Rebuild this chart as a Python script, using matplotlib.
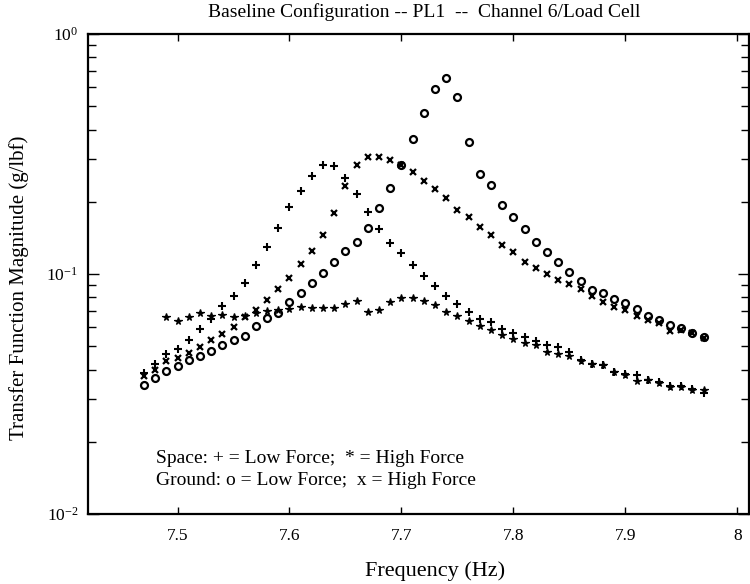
import matplotlib
matplotlib.use("Agg")
import matplotlib.pyplot as plt
import numpy as np
from matplotlib.ticker import LogLocator, FixedLocator, NullFormatter

plt.rcParams['font.family'] = ['Liberation Serif', 'DejaVu Serif']
plt.rcParams['mathtext.fontset'] = 'stix'

freq = [7.47, 7.48, 7.49, 7.50, 7.51, 7.52, 7.53, 7.54, 7.55, 7.56,
        7.57, 7.58, 7.59, 7.60, 7.61, 7.62, 7.63, 7.64, 7.65, 7.66,
        7.67, 7.68, 7.69, 7.70, 7.71, 7.72, 7.73, 7.74, 7.75, 7.76,
        7.77, 7.78, 7.79, 7.80, 7.81, 7.82, 7.83, 7.84, 7.85, 7.86,
        7.87, 7.88, 7.89, 7.90, 7.91, 7.92, 7.93, 7.94, 7.95, 7.96, 7.97]

space_low = [0.0385, 0.0421, 0.0462, 0.0486, 0.0531, 0.0588, 0.0649, 0.0736, 0.0813, 0.0920,
             0.109, 0.130, 0.156, 0.190, 0.222, 0.257, 0.285, 0.283, 0.252, 0.215,
             0.181, 0.154, 0.135, 0.122, 0.109, 0.098, 0.089, 0.081, 0.0752, 0.0693,
             0.0649, 0.0628, 0.0591, 0.0568, 0.0545, 0.0526, 0.0506, 0.0495, 0.0475, 0.0440,
             0.0422, 0.0418, 0.0392, 0.0383, 0.0380, 0.0362, 0.0354, 0.0340, 0.0340, 0.0332, 0.0318]

freq_space_high = freq[2:]
space_high = [0.0662, 0.0640, 0.0659, 0.0686, 0.0671, 0.0678, 0.0659, 0.0667,
              0.0689, 0.0700, 0.0708, 0.0713, 0.0731, 0.0720, 0.0720, 0.0720, 0.0748, 0.0772,
              0.0697, 0.0708, 0.0762, 0.0796, 0.0796, 0.0774, 0.0743, 0.0697, 0.0670, 0.0634,
              0.0607, 0.0583, 0.0555, 0.0537, 0.0514, 0.0506, 0.0475, 0.0464, 0.0455, 0.0436,
              0.0420, 0.0416, 0.0390, 0.0381, 0.0359, 0.0360, 0.0352, 0.0338, 0.0338, 0.0330, 0.0329]

ground_low = [0.0345, 0.0370, 0.0395, 0.0412, 0.0437, 0.0455, 0.0480, 0.0507, 0.0532, 0.0551,
              0.0605, 0.0653, 0.0687, 0.0765, 0.0836, 0.0915, 0.101, 0.1125, 0.125, 0.136,
              0.156, 0.188, 0.228, 0.285, 0.366, 0.469, 0.592, 0.655, 0.545, 0.356,
              0.262, 0.236, 0.194, 0.173, 0.154, 0.136, 0.123, 0.1125, 0.102, 0.0938,
              0.0858, 0.0830, 0.0787, 0.0755, 0.0713, 0.0668, 0.0643, 0.0613, 0.0594, 0.0569, 0.0545]

ground_high = [0.0375, 0.0398, 0.0432, 0.0447, 0.0470, 0.0497, 0.0531, 0.0564, 0.0602, 0.0659,
               0.0708, 0.0782, 0.0863, 0.0965, 0.1097, 0.125, 0.146, 0.180, 0.233, 0.285,
               0.308, 0.308, 0.299, 0.285, 0.265, 0.245, 0.226, 0.207, 0.185, 0.172,
               0.157, 0.146, 0.132, 0.124, 0.1125, 0.106, 0.0997, 0.0944, 0.0906, 0.0863,
               0.0810, 0.0767, 0.0726, 0.0708, 0.0668, 0.0643, 0.0622, 0.0580, 0.0587, 0.0566, 0.0540]

xticks = [7.5, 7.6, 7.7, 7.8, 7.9, 8.0]
xtick_labels = ['7.5', '7.6', '7.7', '7.8', '7.9', '8']

title = 'Baseline Configuration -- PL1  --  Channel 6/Load Cell'
xlabel = 'Frequency (Hz)'
ylabel = 'Transfer Function Magnitude (g/lbf)'
legend_lines = ['Space: + = Low Force;  * = High Force',
                'Ground: o = Low Force;  x = High Force']

W, H = 750, 584
fig = plt.figure(figsize=(W / 100, H / 100), dpi=100)
ax = fig.add_axes([88 / W, (H - 514) / H, (749 - 88) / W, (514 - 34) / H])

ax.plot(freq, space_low, linestyle='none', marker='+', ms=6, mew=1.5, color='black')
ax.plot(freq_space_high, space_high, linestyle='none', marker='*', ms=5.5, mew=0.9, color='black')
ax.plot(freq, ground_low, linestyle='none', marker='o', ms=5, mew=1.6, mfc='none', color='black')
ax.plot(freq, ground_high, linestyle='none', marker='x', ms=4.5, mew=1.6, color='black')

ax.set_yscale('log')
ax.set_ylim(1e-2, 1e0)
ax.set_xlim(7.42, 8.0105)
ax.xaxis.set_major_locator(FixedLocator(xticks))
ax.set_xticklabels(xtick_labels)
ax.yaxis.set_major_locator(LogLocator(base=10, numticks=5))
ax.yaxis.set_minor_locator(LogLocator(base=10, subs=np.arange(2, 10), numticks=20))
ax.yaxis.set_minor_formatter(NullFormatter())

ax.tick_params(axis='both', which='both', direction='in', top=True, right=True,
               labelsize=12.5, width=1.0, colors='black')
ax.tick_params(axis='x', which='major', length=5, pad=10)
ax.tick_params(axis='y', which='major', length=8, pad=7)
ax.tick_params(axis='y', which='minor', length=6)
for s in ax.spines.values():
    s.set_linewidth(1.6)

fig.text(424 / W, 1 - 12 / H, title, ha='center', va='center', fontsize=14)
fig.text(435 / W, 1 - 571 / H, xlabel, ha='center', va='center', fontsize=16)
fig.text(19 / W, 1 - 288 / H, ylabel, ha='center', va='center', rotation=90, fontsize=15)
fig.text(156 / W, 1 - 463 / H, legend_lines[0], ha='left', va='baseline', fontsize=14)
fig.text(156 / W, 1 - 485 / H, legend_lines[1], ha='left', va='baseline', fontsize=14)

fig.savefig('out.png', dpi=100)
